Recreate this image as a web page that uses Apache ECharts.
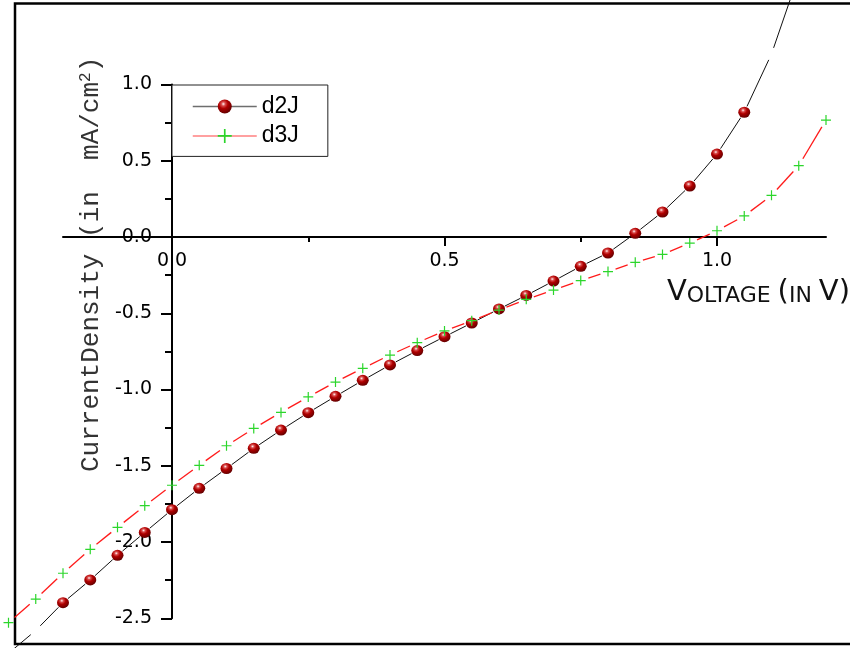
<!DOCTYPE html>
<html><head><meta charset="utf-8">
<script src="https://cdn.jsdelivr.net/npm/echarts@6/dist/echarts.min.js"></script>
<style>html,body{margin:0;padding:0;background:#fff}#c{width:850px;height:648px}</style>
</head><body><div id="c"></div>
<script>
// ---- data ----
const d2JX = [-0.3, -0.25, -0.2, -0.15, -0.1, -0.05, 0, 0.05, 0.1, 0.15, 0.2, 0.25, 0.3, 0.35, 0.4, 0.45, 0.5, 0.55, 0.6, 0.65, 0.7, 0.75, 0.8, 0.85, 0.9, 0.95, 1.0, 1.05, 1.1, 1.15];
const d2JY = [-2.73, -2.58, -2.398, -2.249, -2.087, -1.937, -1.788, -1.648, -1.518, -1.386, -1.266, -1.152, -1.045, -0.940, -0.839, -0.745, -0.654, -0.564, -0.472, -0.383, -0.289, -0.192, -0.105, 0.024, 0.164, 0.334, 0.544, 0.818, 1.20, 1.72];
const d3JX = [-0.3, -0.25, -0.2, -0.15, -0.1, -0.05, 0, 0.05, 0.1, 0.15, 0.2, 0.25, 0.3, 0.35, 0.4, 0.45, 0.5, 0.55, 0.6, 0.65, 0.7, 0.75, 0.8, 0.85, 0.9, 0.95, 1.0, 1.05, 1.1, 1.15, 1.2];
const d3JY = [-2.529, -2.374, -2.205, -2.048, -1.904, -1.762, -1.628, -1.497, -1.369, -1.255, -1.150, -1.049, -0.951, -0.861, -0.774, -0.693, -0.616, -0.549, -0.479, -0.409, -0.348, -0.286, -0.227, -0.166, -0.114, -0.040, 0.041, 0.138, 0.273, 0.468, 0.767];
const xMajorTicks = [0, 0.5, 1.0];
const xMinorTicks = [0.25, 0.75];
const X_MIN = -0.2, X_MAX = 1.2, Y_MIN = -2.5, Y_MAX = 1.0, Y_STEP = 0.5;

// ---- layout / styles ----
const PLOT = {left: 63, top: 84.5, width: 763, height: 533.75};   // x: -0.2..1.2, y: -2.5..1.0
const ZERO_X = PLOT.left + (0 - X_MIN) / (X_MAX - X_MIN) * PLOT.width;   // pixel column of x = 0
const ZERO_Y = PLOT.top + (Y_MAX - 0) / (Y_MAX - Y_MIN) * PLOT.height;   // pixel row of y = 0
const ballFill = new echarts.graphic.RadialGradient(0.4, 0.32, 0.72, [
  {offset: 0, color: '#fff2f2'},
  {offset: 0.2, color: '#d84a4a'},
  {offset: 0.45, color: '#b00000'},
  {offset: 1, color: '#5c0000'}
]);
const plusPath = 'path://M0,4.4H10V5.6H0Z M4.4,0H5.6V10H4.4Z';
const tickFont = 'DejaVu Sans';
const black = '#000';

// connecting line drawn segment by segment, leaving a gap around each data point
function gapLine(name, xs, ys, color, width, gap) {
  const segs = [];
  for (let i = 0; i < xs.length - 1; i++) segs.push([xs[i], ys[i], xs[i + 1], ys[i + 1]]);
  return {
    type: 'custom', name: name, data: segs, encode: {x: [0, 2], y: [1, 3]},
    xAxisIndex: 0, yAxisIndex: 0, clip: false, silent: true, z: 2,
    renderItem: function (params, api) {
      const p0 = api.coord([api.value(0), api.value(1)]);
      const p1 = api.coord([api.value(2), api.value(3)]);
      const dx = p1[0] - p0[0], dy = p1[1] - p0[1];
      const len = Math.hypot(dx, dy);
      if (len <= 2 * gap) return null;
      const ux = dx / len, uy = dy / len;
      return {
        type: 'line',
        shape: {x1: p0[0] + ux * gap, y1: p0[1] + uy * gap, x2: p1[0] - ux * gap, y2: p1[1] - uy * gap},
        style: {stroke: color, lineWidth: width}
      };
    }
  };
}

const d2JData = d2JX.map((x, i) => {
  const y = d2JY[i];
  const item = {value: [x, y]};
  if (y < Y_MIN || y > Y_MAX) item.symbol = 'none';
  return item;
});
const d3JData = d3JX.map((x, i) => [x, d3JY[i]]);

const hiddenAxis = (grid, min, max) => ({type: 'value', gridIndex: grid, min: min, max: max, show: false,
  axisLine: {onZero: false}});

const chart = echarts.init(document.getElementById('c'), null, {renderer: 'canvas'});
chart.setOption({
  backgroundColor: '#ffffff',
  animation: false,
  graphic: [{
    type: 'rect', z: -1, silent: true,
    shape: {x: 15, y: 3.5, width: 860, height: 640.5},
    style: {fill: 'none', stroke: black, lineWidth: 2.5}
  }],
  grid: [
    // data area
    {left: PLOT.left, top: PLOT.top, width: PLOT.width, height: PLOT.height, containLabel: false, outerBoundsMode: 'none'},
    // horizontal axis drawn along y = 0
    {left: PLOT.left, top: PLOT.top, width: PLOT.width, height: ZERO_Y - PLOT.top, containLabel: false, outerBoundsMode: 'none'},
    // vertical axis drawn along x = 0
    {left: ZERO_X, top: PLOT.top, width: PLOT.left + PLOT.width - ZERO_X, height: PLOT.height, containLabel: false, outerBoundsMode: 'none'}
  ],
  legend: {
    orient: 'vertical', left: 172, top: 85,
    padding: [10, 29, 9, 20],
    itemWidth: 64, itemHeight: 17.5, itemGap: 6.4,
    backgroundColor: '#ffffff', borderColor: '#222', borderWidth: 1,
    textStyle: {fontFamily: 'Liberation Sans', fontSize: 23, color: black},
    data: [
      {name: 'd2J', lineStyle: {color: '#6e6e6e', width: 1.5, opacity: 1, type: 'solid'}},
      {name: 'd3J', lineStyle: {color: '#ff8080', width: 1.5, opacity: 1, type: 'solid'}}
    ]
  },
  xAxis: [
    hiddenAxis(0, X_MIN, X_MAX),
    {
      type: 'value', gridIndex: 1, min: X_MIN, max: X_MAX, position: 'bottom',
      axisLine: {onZero: false, lineStyle: {color: black, width: 2}},
      axisTick: {show: true, customValues: xMajorTicks, length: 9, lineStyle: {color: black, width: 2}},
      axisLabel: {customValues: xMajorTicks, margin: 15, color: black, fontFamily: tickFont, fontSize: 19,
        formatter: v => v.toFixed(1)},
      splitLine: {show: false},
      name: '{b|V}{s|OLTAGE }{b|(}{s|IN }{b|V)}',
      nameLocation: 'end', nameGap: 24,
      nameTextStyle: {
        align: 'right', verticalAlign: 'top', padding: [41, 0, 0, 0],
        rich: {
          b: {fontFamily: 'DejaVu Sans', fontSize: 29, color: '#111', verticalAlign: 'bottom'},
          s: {fontFamily: 'DejaVu Sans', fontSize: 22, color: '#111', verticalAlign: 'bottom'}
        }
      }
    },
    {
      type: 'value', gridIndex: 1, min: X_MIN, max: X_MAX, position: 'bottom',
      axisLine: {show: false, onZero: false},
      axisTick: {show: true, customValues: xMinorTicks, length: 5, lineStyle: {color: black, width: 2}},
      axisLabel: {show: false},
      splitLine: {show: false}
    },
    hiddenAxis(2, 0, 1)
  ],
  yAxis: [
    hiddenAxis(0, Y_MIN, Y_MAX),
    hiddenAxis(1, 0, 1),
    {
      type: 'value', gridIndex: 2, min: Y_MIN, max: Y_MAX, interval: Y_STEP, position: 'left',
      axisLine: {onZero: false, lineStyle: {color: black, width: 2}},
      axisTick: {show: true, length: 11, lineStyle: {color: black, width: 2}},
      minorTick: {show: true, splitNumber: 2, length: 7, lineStyle: {color: black, width: 2}},
      axisLabel: {margin: 20, color: black, fontFamily: tickFont, fontSize: 19, formatter: v => v.toFixed(1)},
      splitLine: {show: false},
      name: 'CurrentDensity (in  mA/cm{sup|2})',
      nameLocation: 'middle', nameRotate: 90, nameGap: 47,
      nameTextStyle: {
        fontFamily: 'Liberation Mono', fontSize: 26, color: '#333',
        padding: [0, 0, 0, 174],
        rich: {sup: {fontFamily: 'Liberation Mono', fontSize: 16, color: '#333', verticalAlign: 'top'}}
      }
    }
  ],
  series: [
    gapLine('d2J line', d2JX, d2JY, '#111111', 1, 6.5),
    gapLine('d3J line', d3JX, d3JY, '#ff1a1a', 1.3, 8),
    {
      type: 'line', name: 'd2J', data: d2JData, xAxisIndex: 0, yAxisIndex: 0,
      clip: false, silent: true, z: 3,
      symbol: 'circle', symbolSize: [12, 11], showAllSymbol: true,
      itemStyle: {color: ballFill},
      lineStyle: {opacity: 0, color: '#6e6e6e'}
    },
    {
      type: 'line', name: 'd3J', data: d3JData, xAxisIndex: 0, yAxisIndex: 0,
      clip: false, silent: true, z: 4,
      symbol: plusPath, symbolSize: 10, showAllSymbol: true,
      itemStyle: {color: '#2bd62b'},
      lineStyle: {opacity: 0, color: '#ff8080'}
    }
  ]
});
</script>
</body></html>
